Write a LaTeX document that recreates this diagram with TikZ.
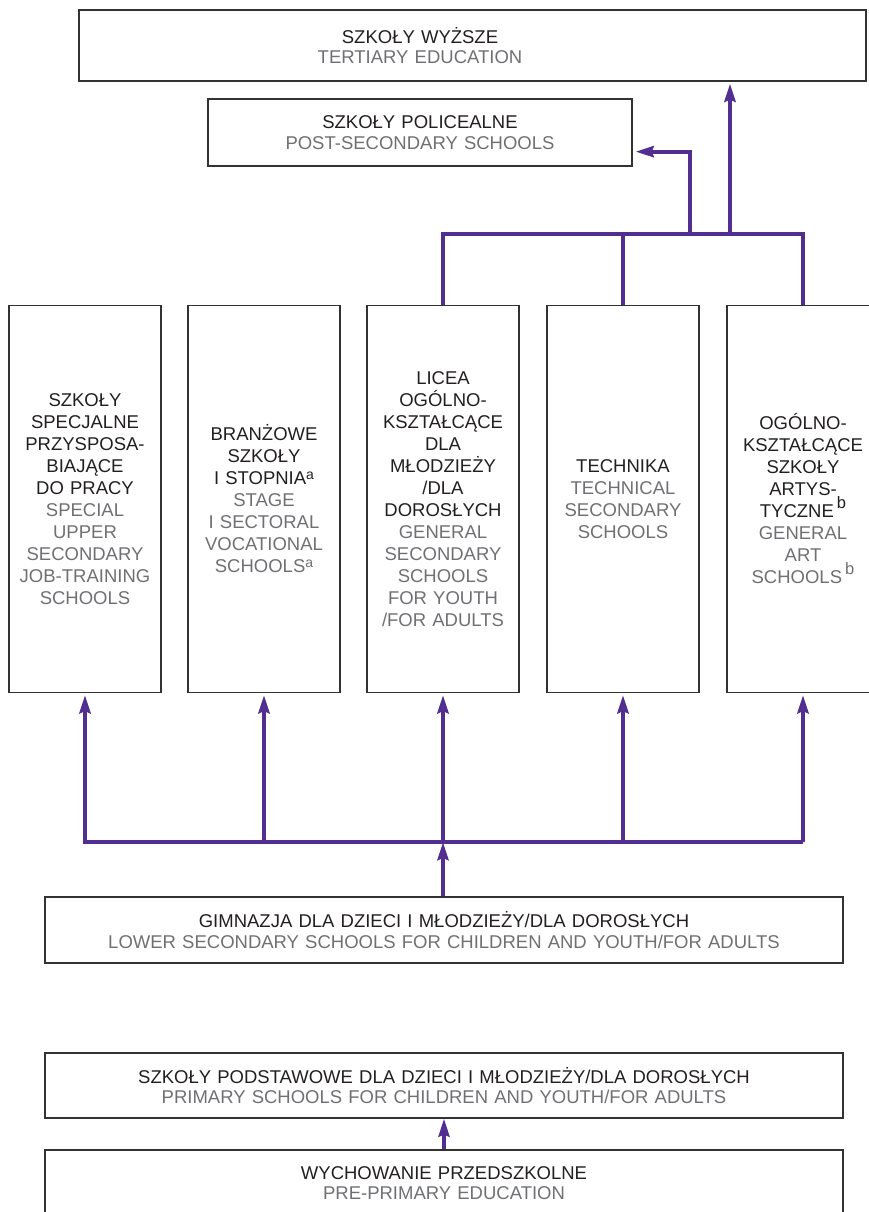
\documentclass[tikz,border=0pt]{standalone}
\usepackage{fontspec}
\setmainfont{Liberation Sans}
\usetikzlibrary{arrows.meta}
\definecolor{edu}{RGB}{82,46,145}
\definecolor{ink}{RGB}{35,31,32}
\definecolor{grayink}{RGB}{112,112,116}
\definecolor{frame}{RGB}{50,50,50}
\newcommand\fnote[3][15]{\raisebox{#2}{\fontsize{#1}{#1}\selectfont #3}}
\tikzset{
  box/.style={draw=frame,line width=1.3pt,inner sep=0pt,align=center,text=ink,font=\fontsize{18.5}{20.5}\selectfont},
  wide/.style={box,minimum width=798,minimum height=66,text width=790},
  col/.style={box,minimum width=152,minimum height=387,text width=150,font=\fontsize{18.5}{22}\selectfont},
  link/.style={draw=edu,line width=4pt},
  up/.style={link,-{Stealth[length=18pt,width=11pt,inset=2pt]},shorten >=2pt},
}
\begin{document}
\begin{tikzpicture}[x=1pt,y=-1pt]
\useasboundingbox (0,0) rectangle (869,1212);
\clip (0,0) rectangle (869,1212);
\node[box,minimum width=787,minimum height=71] (tertiary) at (472.5,45.5) {};
\node[box,draw=none,text width=420] (tertiarytext) at (420,45.5) {SZKOŁY WYŻSZE\\\color{grayink}TERTIARY EDUCATION};
\node[box,minimum width=424,minimum height=67,text width=420] (postsec) at (420,132.5) {SZKOŁY POLICEALNE\\\color{grayink}POST-SECONDARY SCHOOLS};
\node[col] (special) at (85,499) {SZKOŁY\\SPECJALNE\\PRZYSPOSA-\\BIAJĄCE\\DO PRACY\\\color{grayink}SPECIAL\\UPPER\\SECONDARY\\JOB-TRAINING\\SCHOOLS};
\node[col] (sectoral) at (264,499) {BRANŻOWE\\SZKOŁY\\I STOPNIA\fnote[14]{5.5pt}{a}\\\color{grayink}STAGE\\I SECTORAL\\VOCATIONAL\\SCHOOLS\fnote[14]{5.5pt}{a}};
\node[col] (general) at (443,499) {LICEA\\OGÓLNO-\\KSZTAŁCĄCE\\DLA\\MŁODZIEŻY\\/DLA\\DOROSŁYCH\\\color{grayink}GENERAL\\SECONDARY\\SCHOOLS\\FOR YOUTH\\/FOR ADULTS};
\node[col] (technical) at (623,499) {TECHNIKA\\\color{grayink}TECHNICAL\\SECONDARY\\SCHOOLS};
\node[col] (art) at (803,499) {OGÓLNO-\\KSZTAŁCĄCE\\SZKOŁY\\ARTYS-\\TYCZNE\,\fnote[16.5]{9pt}{b}\\\color{grayink}GENERAL\\ART\\SCHOOLS\,\fnote[16.5]{9pt}{b}};
\node[wide] (lowersec) at (444,930) {GIMNAZJA DLA DZIECI I MŁODZIEŻY/DLA DOROSŁYCH\\\color{grayink}LOWER SECONDARY SCHOOLS FOR CHILDREN AND YOUTH/FOR ADULTS};
\node[wide,minimum height=65] (primary) at (444,1085.5) {SZKOŁY PODSTAWOWE DLA DZIECI I MŁODZIEŻY/DLA DOROSŁYCH\\\color{grayink}PRIMARY SCHOOLS FOR CHILDREN AND YOUTH/FOR ADULTS};
\node[wide] (preprimary) at (444,1183) {WYCHOWANIE PRZEDSZKOLNE\\\color{grayink}PRE-PRIMARY EDUCATION};
\coordinate (tb) at (0,234);
\coordinate (bb) at (0,842);
\coordinate (topost) at (690,234);
\coordinate (totert) at (730,234);
\draw[link] (general.north) -- (general.north |- tb) -- (art.north |- tb) -- (art.north);
\draw[link] (technical.north) -- (technical.north |- tb);
\draw[up] (totert) -- (totert |- tertiary.south);
\draw[up,shorten >=3pt] (topost) |- ([yshift=15pt]postsec.south east);
\draw[up] (art.south |- bb) -- (special.south |- bb) -- (special.south);
\foreach \n in {sectoral,general,technical,art}
  \draw[up] (\n.south |- bb) -- (\n.south);
\draw[up,shorten >=0pt] (general.south |- lowersec.north) -- (general.south |- bb);
\draw[up,line width=3.5pt,shorten >=0pt] (preprimary.north) -- (primary.south);
\end{tikzpicture}
\end{document}
